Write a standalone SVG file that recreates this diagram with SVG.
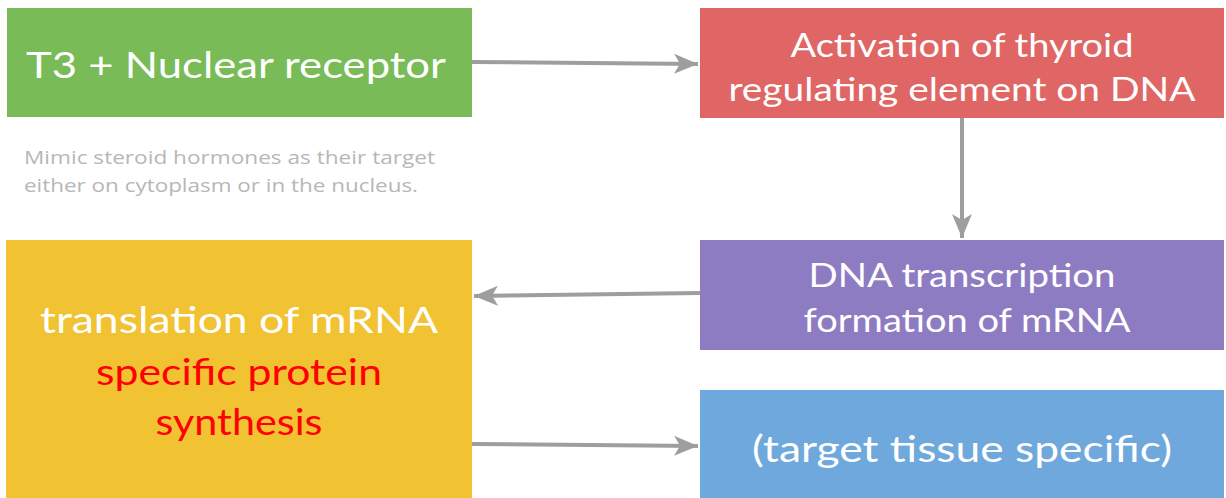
<svg xmlns="http://www.w3.org/2000/svg" width="1226" height="498" viewBox="0 0 1226 498">
<style>
.t{font-family:Lato,"Open Sans","Liberation Sans",sans-serif;fill:#fff;text-anchor:middle}
.big{font-size:37px}
.mid{font-size:33px}
.red{fill:#ff0000}
.note{font-family:"Open Sans","Liberation Sans",sans-serif;font-size:19px;fill:#b7b7b7}
.c{stroke:#9e9e9e;stroke-width:4;fill:none;marker-end:url(#ah)}
</style>
<defs>
<marker id="ah" markerUnits="userSpaceOnUse" markerWidth="26" markerHeight="22" refX="24" refY="11" orient="auto">
<path d="M0,1 L24,11 L0,21 L6,11 Z" fill="#9e9e9e"/>
</marker>
</defs>
<rect width="1226" height="498" fill="#fff"/>
<g id="connectors">
<path class="c" d="M472,62 L698,64"/>
<path class="c" d="M962,118 L962,238"/>
<path class="c" d="M700,293 L474,296"/>
<path class="c" d="M472,444 L698,446"/>
</g>
<g id="n1">
<rect x="7" y="8" width="465" height="109" fill="#78bb57"/>
<text class="t big" x="236" y="78" textLength="420" lengthAdjust="spacingAndGlyphs">T3 + Nuclear receptor</text>
</g>
<g id="n2">
<rect x="700" y="8" width="524" height="110" fill="#e06666"/>
<text class="t mid" x="962" y="57" textLength="343" lengthAdjust="spacingAndGlyphs">Activation of thyroid</text>
<text class="t mid" x="962" y="101" textLength="467" lengthAdjust="spacingAndGlyphs">regulating element on DNA</text>
</g>
<g id="note">
<text class="note" x="24" y="164" textLength="411" lengthAdjust="spacingAndGlyphs">Mimic steroid hormones as their target</text>
<text class="note" x="24" y="192" textLength="394" lengthAdjust="spacingAndGlyphs">either on cytoplasm or in the nucleus.</text>
</g>
<g id="n3">
<rect x="700" y="240" width="524" height="110" fill="#8e7cc3"/>
<text class="t mid" x="962" y="287" textLength="307" lengthAdjust="spacingAndGlyphs">DNA transcription</text>
<text class="t mid" x="967" y="332" textLength="327" lengthAdjust="spacingAndGlyphs">formation of mRNA</text>
</g>
<g id="n4">
<rect x="6" y="240" width="466" height="258" fill="#f1c232"/>
<text class="t big" x="239" y="333" textLength="398" lengthAdjust="spacingAndGlyphs">translation of mRNA</text>
<text class="t big red" x="239" y="385" textLength="286" lengthAdjust="spacingAndGlyphs">specific protein</text>
<text class="t big red" x="239" y="435" textLength="167" lengthAdjust="spacingAndGlyphs">synthesis</text>
</g>
<g id="n5">
<rect x="700" y="390" width="524" height="108" fill="#6fa8dc"/>
<text class="t big" x="962" y="462" textLength="420" lengthAdjust="spacingAndGlyphs">(target tissue specific)</text>
</g>
</svg>
